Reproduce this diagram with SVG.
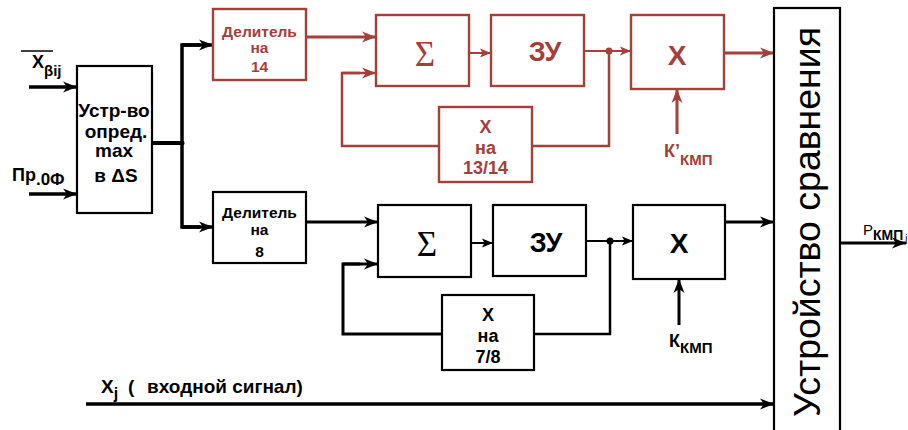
<svg xmlns="http://www.w3.org/2000/svg" width="908" height="430" viewBox="0 0 908 430">
<style>
.b{fill:#fff;stroke:#000;stroke-width:2.2}
.r{fill:#fff;stroke:#A3403A;stroke-width:2.4}
.t{font-family:"Liberation Sans",Arial,sans-serif;font-weight:bold;text-anchor:middle}
.tk{fill:#000}
.tr{fill:#A3403A}
.lk{fill:none;stroke:#000}
.lr{fill:none;stroke:#A3403A}
</style>
<defs>
<marker id="ak" markerUnits="userSpaceOnUse" markerWidth="16" markerHeight="12" refX="14" refY="6" orient="auto"><path d="M0,0.5 L14,6 L0,11.5 L4,6 z" fill="#000"/></marker>
<marker id="ar" markerUnits="userSpaceOnUse" markerWidth="16" markerHeight="12" refX="14" refY="6" orient="auto"><path d="M0,0.5 L14,6 L0,11.5 L4,6 z" fill="#A3403A"/></marker>
<marker id="aks" markerUnits="userSpaceOnUse" markerWidth="12" markerHeight="10" refX="11" refY="5" orient="auto"><path d="M0,0.5 L11,5 L0,9.5 L2.5,5 z" fill="#000"/></marker>
<marker id="ars" markerUnits="userSpaceOnUse" markerWidth="12" markerHeight="10" refX="11" refY="5" orient="auto"><path d="M0,0.5 L11,5 L0,9.5 L2.5,5 z" fill="#A3403A"/></marker>
</defs>

<g id="connectors">
<line class="lk" x1="29" y1="87" x2="77" y2="87" stroke-width="3.5" marker-end="url(#ak)"/>
<line class="lk" x1="29" y1="194" x2="77" y2="194" stroke-width="3.5" marker-end="url(#ak)"/>
<line class="lk" x1="152" y1="143" x2="182" y2="143" stroke-width="4"/>
<polyline class="lk" points="200,45 182,45 182,227 200,227" stroke-width="3.5"/>
<line class="lk" x1="182" y1="45" x2="213" y2="45" stroke-width="3.5" marker-end="url(#ak)"/>
<line class="lk" x1="182" y1="227" x2="213" y2="227" stroke-width="3.5" marker-end="url(#ak)"/>
<circle cx="182" cy="143" r="2.5" fill="#000"/>
<line class="lr" x1="306" y1="37" x2="376" y2="37" stroke-width="3" marker-end="url(#ar)"/>
<line class="lr" x1="469" y1="53" x2="491" y2="53" stroke-width="2" marker-end="url(#ars)"/>
<line class="lr" x1="584" y1="51" x2="631" y2="51" stroke-width="2" marker-end="url(#ars)"/>
<circle cx="609" cy="51" r="3.5" fill="#A3403A"/>
<polyline class="lr" points="609,51 609,146 532,146" stroke-width="2.5"/>
<polyline class="lr" points="439,146 342,146 342,73 360,73" stroke-width="2.5"/>
<line class="lr" x1="342" y1="73" x2="376" y2="73" stroke-width="2.5" marker-end="url(#ar)"/>
<line class="lr" x1="677" y1="134" x2="677" y2="89" stroke-width="3" marker-end="url(#ar)"/>
<line class="lr" x1="724" y1="53" x2="774" y2="53" stroke-width="3" marker-end="url(#ar)"/>
<line class="lk" x1="306" y1="222" x2="378" y2="222" stroke-width="3" marker-end="url(#ak)"/>
<line class="lk" x1="471" y1="243" x2="493" y2="243" stroke-width="2" marker-end="url(#aks)"/>
<line class="lk" x1="586" y1="241" x2="633" y2="241" stroke-width="2" marker-end="url(#aks)"/>
<circle cx="610" cy="241" r="3.5" fill="#000"/>
<polyline class="lk" points="610,241 610,334 534,334" stroke-width="2.5"/>
<polyline class="lk" points="442,334 343,334 343,264 360,264" stroke-width="3"/>
<line class="lk" x1="343" y1="264" x2="378" y2="264" stroke-width="3" marker-end="url(#ak)"/>
<line class="lk" x1="679" y1="325" x2="679" y2="279" stroke-width="3" marker-end="url(#ak)"/>
<line class="lk" x1="725" y1="222" x2="774" y2="222" stroke-width="3" marker-end="url(#ak)"/>
<line class="lk" x1="86" y1="404" x2="774" y2="404" stroke-width="3.5" marker-end="url(#ak)"/>
<line class="lk" x1="840" y1="243" x2="906" y2="243" stroke-width="3" marker-end="url(#ak)"/>
</g>

<g id="labels">
<line x1="21" y1="51" x2="53" y2="51" stroke="#000" stroke-width="1.5"/>
<text class="t tk" x="32" y="68" style="text-anchor:start" font-size="18">X<tspan font-size="15" dy="8">βij</tspan></text>
<text class="t tk" x="12" y="181" style="text-anchor:start" font-size="18">Пр<tspan font-size="17" dy="4">.0Ф</tspan></text>
<text class="t tr" x="664" y="157" style="text-anchor:start" font-size="18">К’<tspan font-size="15" dy="8">КМП</tspan></text>
<text class="t tk" x="669" y="347" style="text-anchor:start" font-size="18">К<tspan font-size="15" dy="6">КМП</tspan></text>
<text class="t tk" x="101" y="393" style="text-anchor:start" font-size="19">X<tspan font-size="16" dy="6">j</tspan></text>
<text class="t tk" x="128" y="393" style="text-anchor:start" font-size="19">(</text>
<text class="t tk" x="147" y="393" style="text-anchor:start" font-size="19">входной сигнал)</text>
<text x="863" y="235" font-family="Liberation Sans,Arial,sans-serif" font-size="15" fill="#000">P<tspan font-weight="bold" font-size="14" dy="5">КМП</tspan><tspan font-size="10" dx="2" dy="2">j</tspan></text>
</g>

<g id="max-block">
<rect class="b" x="77" y="66" width="75" height="147"/>
<text class="t tk" x="114" y="117" font-size="19">Устр-во</text>
<text class="t tk" x="116" y="138" font-size="19">опред.</text>
<text class="t tk" x="114" y="157" font-size="19">max</text>
<text class="t tk" x="116" y="182" font-size="19">в ΔS</text>
</g>

<g id="div14">
<rect class="r" x="213" y="9" width="93" height="71"/>
<text class="t tr" x="259.5" y="37" font-size="15.5">Делитель</text>
<text class="t tr" x="259.5" y="53" font-size="15.5">на</text>
<text class="t tr" x="259.5" y="72" font-size="15.5">14</text>
</g>
<g id="sum1">
<rect class="r" x="376" y="15" width="93" height="71"/>
<text x="425" y="66" font-family="Liberation Serif,Times New Roman,serif" font-size="35" text-anchor="middle" fill="#A3403A">Σ</text>
</g>
<g id="mem1">
<rect class="r" x="491" y="15" width="93" height="71"/>
<text class="t tr" x="545" y="61" font-size="27">ЗУ</text>
</g>
<g id="mul1">
<rect class="r" x="631" y="15" width="93" height="74"/>
<text class="t tr" x="677" y="65" font-size="28">X</text>
</g>
<g id="fb1">
<rect class="r" x="439" y="107" width="93" height="75"/>
<text class="t tr" x="485.5" y="133" font-size="18">X</text>
<text class="t tr" x="485.5" y="154" font-size="18">на</text>
<text class="t tr" x="485.5" y="174" font-size="18">13/14</text>
</g>

<g id="div8">
<rect class="b" x="213" y="192" width="93" height="71"/>
<text class="t tk" x="259.5" y="218" font-size="15.5">Делитель</text>
<text class="t tk" x="259.5" y="235" font-size="15.5">на</text>
<text class="t tk" x="259.5" y="257" font-size="15.5">8</text>
</g>
<g id="sum2">
<rect class="b" x="378" y="205" width="93" height="72"/>
<text x="427" y="256" font-family="Liberation Serif,Times New Roman,serif" font-size="35" text-anchor="middle" fill="#000">Σ</text>
</g>
<g id="mem2">
<rect class="b" x="493" y="205" width="93" height="71"/>
<text class="t tk" x="546" y="252" font-size="27">ЗУ</text>
</g>
<g id="mul2">
<rect class="b" x="633" y="205" width="92" height="74"/>
<text class="t tk" x="679" y="253" font-size="28">X</text>
</g>
<g id="fb2">
<rect class="b" x="442" y="295" width="92" height="75"/>
<text class="t tk" x="488" y="321" font-size="18">X</text>
<text class="t tk" x="488" y="342" font-size="18">на</text>
<text class="t tk" x="488" y="363" font-size="18">7/8</text>
</g>

<g id="comparator">
<rect class="b" x="774" y="8" width="66" height="430"/>
<text transform="translate(820,222) rotate(-90)" x="0" y="0" font-family="Liberation Sans,Arial,sans-serif" font-size="36" text-anchor="middle" fill="#000" textLength="390" lengthAdjust="spacingAndGlyphs">Устройство сравнения</text>
</g>
</svg>
